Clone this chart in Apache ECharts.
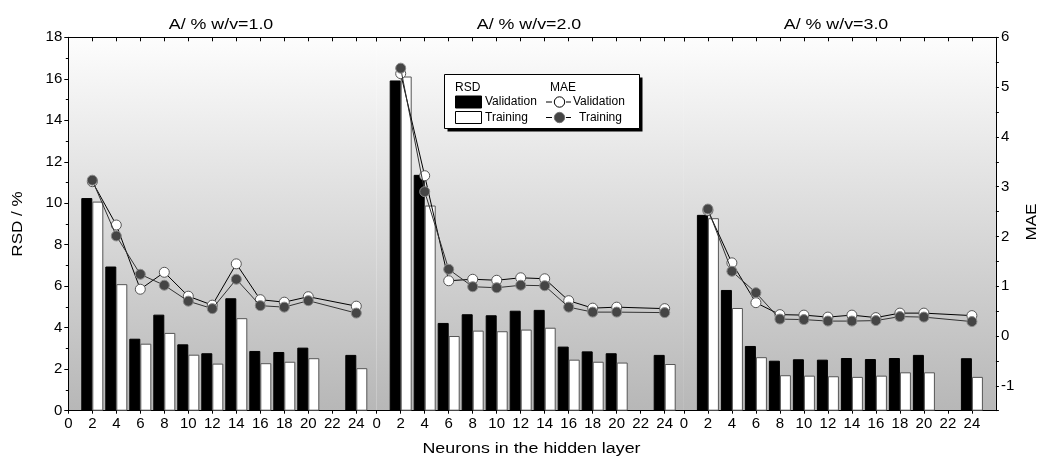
<!DOCTYPE html>
<html><head><meta charset="utf-8">
<script src="https://cdn.jsdelivr.net/npm/echarts@6/dist/echarts.min.js"></script>
<style>html,body{margin:0;padding:0;background:#fff}#c{width:1041px;height:458px}</style>
</head><body><div id="c"></div>
<script>
// ---------- data ----------
const panelTitles = ['A/ % w/v=1.0', 'A/ % w/v=2.0', 'A/ % w/v=3.0'];
const neurons = [2, 4, 6, 8, 10, 12, 14, 16, 18, 20, 24];
const xTickLabels = [0, 2, 4, 6, 8, 10, 12, 14, 16, 18, 20, 22, 24];
const rsdTickLabels = [0, 2, 4, 6, 8, 10, 12, 14, 16, 18];
const maeTickLabels = [-1, 0, 1, 2, 3, 4, 5, 6];

const rsdVal1 = [10.25, 6.95, 3.47, 4.63, 3.20, 2.77, 5.42, 2.88, 2.83, 3.04, 2.69];
const rsdTrn1 = [10.08, 6.10, 3.23, 3.75, 2.70, 2.27, 4.46, 2.29, 2.36, 2.53, 2.05];
const maeVal1 = [3.10, 2.23, 0.94, 1.28, 0.80, 0.62, 1.45, 0.73, 0.68, 0.79, 0.60];
const maeTrn1 = [3.13, 2.01, 1.24, 1.02, 0.70, 0.55, 1.14, 0.61, 0.58, 0.71, 0.46];

const rsdVal2 = [15.92, 11.37, 4.23, 4.65, 4.60, 4.82, 4.86, 3.09, 2.86, 2.77, 2.69];
const rsdTrn2 = [16.11, 9.89, 3.60, 3.86, 3.83, 3.91, 4.00, 2.46, 2.36, 2.32, 2.25];
const maeVal2 = [5.27, 3.22, 1.11, 1.14, 1.12, 1.17, 1.15, 0.71, 0.56, 0.58, 0.55];
const maeTrn2 = [5.38, 2.90, 1.34, 0.99, 0.97, 1.02, 1.01, 0.58, 0.48, 0.48, 0.47];

const rsdVal3 = [9.44, 5.82, 3.12, 2.41, 2.48, 2.46, 2.54, 2.49, 2.54, 2.69, 2.53];
const rsdTrn3 = [9.28, 4.95, 2.58, 1.71, 1.69, 1.66, 1.63, 1.69, 1.85, 1.85, 1.63];
const maeVal3 = [2.52, 1.47, 0.67, 0.43, 0.42, 0.38, 0.42, 0.37, 0.46, 0.46, 0.41];
const maeTrn3 = [2.55, 1.30, 0.87, 0.34, 0.33, 0.30, 0.30, 0.31, 0.39, 0.38, 0.29];

// ---------- layout ----------
const FONT = '"Liberation Sans", Arial, Helvetica, sans-serif';
const panels = [
  {left: 68.3, max: 25.7, rv: rsdVal1, rt: rsdTrn1, mv: maeVal1, mt: maeTrn1},
  {left: 376.7, max: 25.6, rv: rsdVal2, rt: rsdTrn2, mv: maeVal2, mt: maeTrn2},
  {left: 683.9, max: 26.0, rv: rsdVal3, rt: rsdTrn3, mv: maeVal3, mt: maeTrn3}
];
const PX = 12; // px per x unit
const TOP = 37.3, HEIGHT = 373.4;

const pair = (xs, ys) => xs.map((x, i) => [x, ys[i]]);
const bg = {type: 'linear', x: 0, y: 0, x2: 0, y2: 1,
  colorStops: [{offset: 0, color: '#fdfdfd'}, {offset: 1, color: '#b7b7b7'}]};
const hidden = {show: false, axisLine: {show: false}, axisTick: {show: false},
  axisLabel: {show: false}, splitLine: {show: false}};

const grid = [], xAxis = [], yAxis = [], series = [];
panels.forEach((p, i) => {
  grid.push({left: p.left, top: TOP, width: p.max * PX, height: HEIGHT,
    show: true, backgroundColor: bg, borderWidth: 0, containLabel: false});
});
// bottom x axes
panels.forEach((p, i) => {
  xAxis.push({type: 'value', gridIndex: i, position: 'bottom', min: 0, max: p.max, interval: 2,
    axisLine: {show: true, onZero: false, lineStyle: {color: '#000', width: 1}},
    axisTick: {show: true, inside: false, length: 3, lineStyle: {color: '#000'}},
    axisLabel: {show: true, margin: 6, color: '#000', fontSize: 15, fontFamily: FONT,
      showMaxLabel: false,
      formatter: v => xTickLabels.includes(v) ? String(v) : ''},
    splitLine: {show: false}});
});
// top x axes
panels.forEach((p, i) => {
  xAxis.push({type: 'value', gridIndex: i, position: 'top', min: 0, max: p.max, interval: 2,
    axisLine: {show: true, onZero: false, lineStyle: {color: '#000', width: 1}},
    axisTick: {show: true, inside: true, length: 4, lineStyle: {color: '#000'}},
    axisLabel: {show: false}, splitLine: {show: false}});
});
// left y axes (RSD)
panels.forEach((p, i) => {
  const base = {type: 'value', gridIndex: i, position: 'left', min: 0, max: 18, interval: 2};
  if (i !== 0) { yAxis.push(Object.assign(base, hidden)); return; }
  yAxis.push(Object.assign(base, {
    axisLine: {show: true, onZero: false, lineStyle: {color: '#000', width: 1}},
    axisTick: {show: true, inside: false, length: 4, lineStyle: {color: '#000'}},
    minorTick: {show: true, splitNumber: 2, length: 2.5, lineStyle: {color: '#000'}},
    axisLabel: {margin: 6, color: '#000', fontSize: 15, fontFamily: FONT,
      formatter: v => rsdTickLabels.includes(v) ? String(v) : ''},
    splitLine: {show: false}, minorSplitLine: {show: false}}));
});
// right y axes (MAE)
panels.forEach((p, i) => {
  const base = {type: 'value', gridIndex: i, position: 'right', min: -1.5, max: 6, interval: 0.5};
  if (i !== 2) { yAxis.push(Object.assign(base, hidden)); return; }
  yAxis.push(Object.assign(base, {
    axisLine: {show: true, onZero: false, lineStyle: {color: '#000', width: 1}},
    axisTick: {show: true, inside: false, length: 3, lineStyle: {color: '#000'}},
    axisLabel: {margin: 5, color: '#000', fontSize: 15, fontFamily: FONT,
      formatter: v => maeTickLabels.includes(v) ? String(v) : ''},
    splitLine: {show: false}}));
});
panels.forEach((p, i) => {
  series.push({type: 'bar', name: 'RSD Validation', xAxisIndex: i, yAxisIndex: i,
    data: pair(neurons, p.rv), barWidth: 11, barGap: '0%',
    itemStyle: {color: '#000', borderColor: '#000', borderWidth: 1}, z: 2});
  series.push({type: 'bar', name: 'RSD Training', xAxisIndex: i, yAxisIndex: i,
    data: pair(neurons, p.rt), barWidth: 11, barGap: '0%',
    itemStyle: {color: '#fff', borderColor: '#555', borderWidth: 1}, z: 2});
  series.push({type: 'line', name: 'MAE Validation', xAxisIndex: i, yAxisIndex: 3 + i,
    data: pair(neurons, p.mv), symbol: 'circle', symbolSize: 10,
    lineStyle: {color: '#000', width: 1},
    itemStyle: {color: '#fff', borderColor: '#555', borderWidth: 1}, z: 3});
  series.push({type: 'line', name: 'MAE Training', xAxisIndex: i, yAxisIndex: 3 + i,
    data: pair(neurons, p.mt), symbol: 'circle', symbolSize: 10,
    lineStyle: {color: '#333', width: 1},
    itemStyle: {color: '#454545', borderColor: '#8a8a8a', borderWidth: 1}, z: 4});
});

const SX = 1.15;
const txt = (text, x, y, size, opts = {}) => Object.assign({
  type: 'text', x: x, y: y, z: 100,
  style: {text: text, x: 0, y: 0, font: size + 'px ' + FONT, fill: '#000',
    textAlign: opts.align || 'center', textVerticalAlign: 'middle'}
}, opts.el || {});

const graphic = [];
const titleX = [221, 529, 836];
panelTitles.forEach((t, i) => graphic.push(txt(t, titleX[i], 24.5, 15.5, {el: {scaleX: SX}})));
graphic.push(txt('Neurons in the hidden layer', 531.5, 449, 15.5, {el: {scaleX: SX}}));
graphic.push(txt('RSD / %', 17.5, 224, 15.5, {el: {rotation: Math.PI / 2, scaleX: 1.1}}));
graphic.push(txt('MAE', 1032, 222, 15.5, {el: {rotation: Math.PI / 2, scaleX: 1.1}}));

// legend box
graphic.push({type: 'rect', z: 100, shape: {x: 447.5, y: 77.5, width: 195, height: 54}, style: {fill: '#000'}});
graphic.push({type: 'rect', z: 101, shape: {x: 444.5, y: 74.5, width: 195, height: 54}, style: {fill: '#fff', stroke: '#000', lineWidth: 1}});
graphic.push(txt('RSD', 455, 87.5, 12, {align: 'left', el: {z: 102}}));
graphic.push(txt('MAE', 550, 87.5, 12, {align: 'left', el: {z: 102}}));
graphic.push({type: 'rect', z: 102, shape: {x: 455.5, y: 96, width: 26, height: 12}, style: {fill: '#000', stroke: '#000', lineWidth: 1}});
graphic.push({type: 'rect', z: 102, shape: {x: 455.5, y: 111.5, width: 26, height: 12}, style: {fill: '#fff', stroke: '#000', lineWidth: 1}});
graphic.push(txt('Validation', 485, 102, 12, {align: 'left', el: {z: 102}}));
graphic.push(txt('Training', 485, 117.5, 12, {align: 'left', el: {z: 102}}));
[[102, '#fff', '#000', 'Validation', 573], [117.5, '#454545', '#777', 'Training', 579]].forEach(r => {
  graphic.push({type: 'line', z: 102, shape: {x1: 546, y1: r[0], x2: 552, y2: r[0]}, style: {stroke: '#000', lineWidth: 1}});
  graphic.push({type: 'line', z: 102, shape: {x1: 566, y1: r[0], x2: 571, y2: r[0]}, style: {stroke: '#000', lineWidth: 1}});
  graphic.push({type: 'circle', z: 103, shape: {cx: 559.5, cy: r[0], r: 5.2}, style: {fill: r[1], stroke: r[2], lineWidth: 1}});
  graphic.push(txt(r[3], r[4], r[0], 12, {align: 'left', el: {z: 102}}));
});

const chart = echarts.init(document.getElementById('c'), null, {renderer: 'canvas'});
chart.setOption({animation: false, backgroundColor: '#fff', grid, xAxis, yAxis, series, graphic});
</script></body></html>
